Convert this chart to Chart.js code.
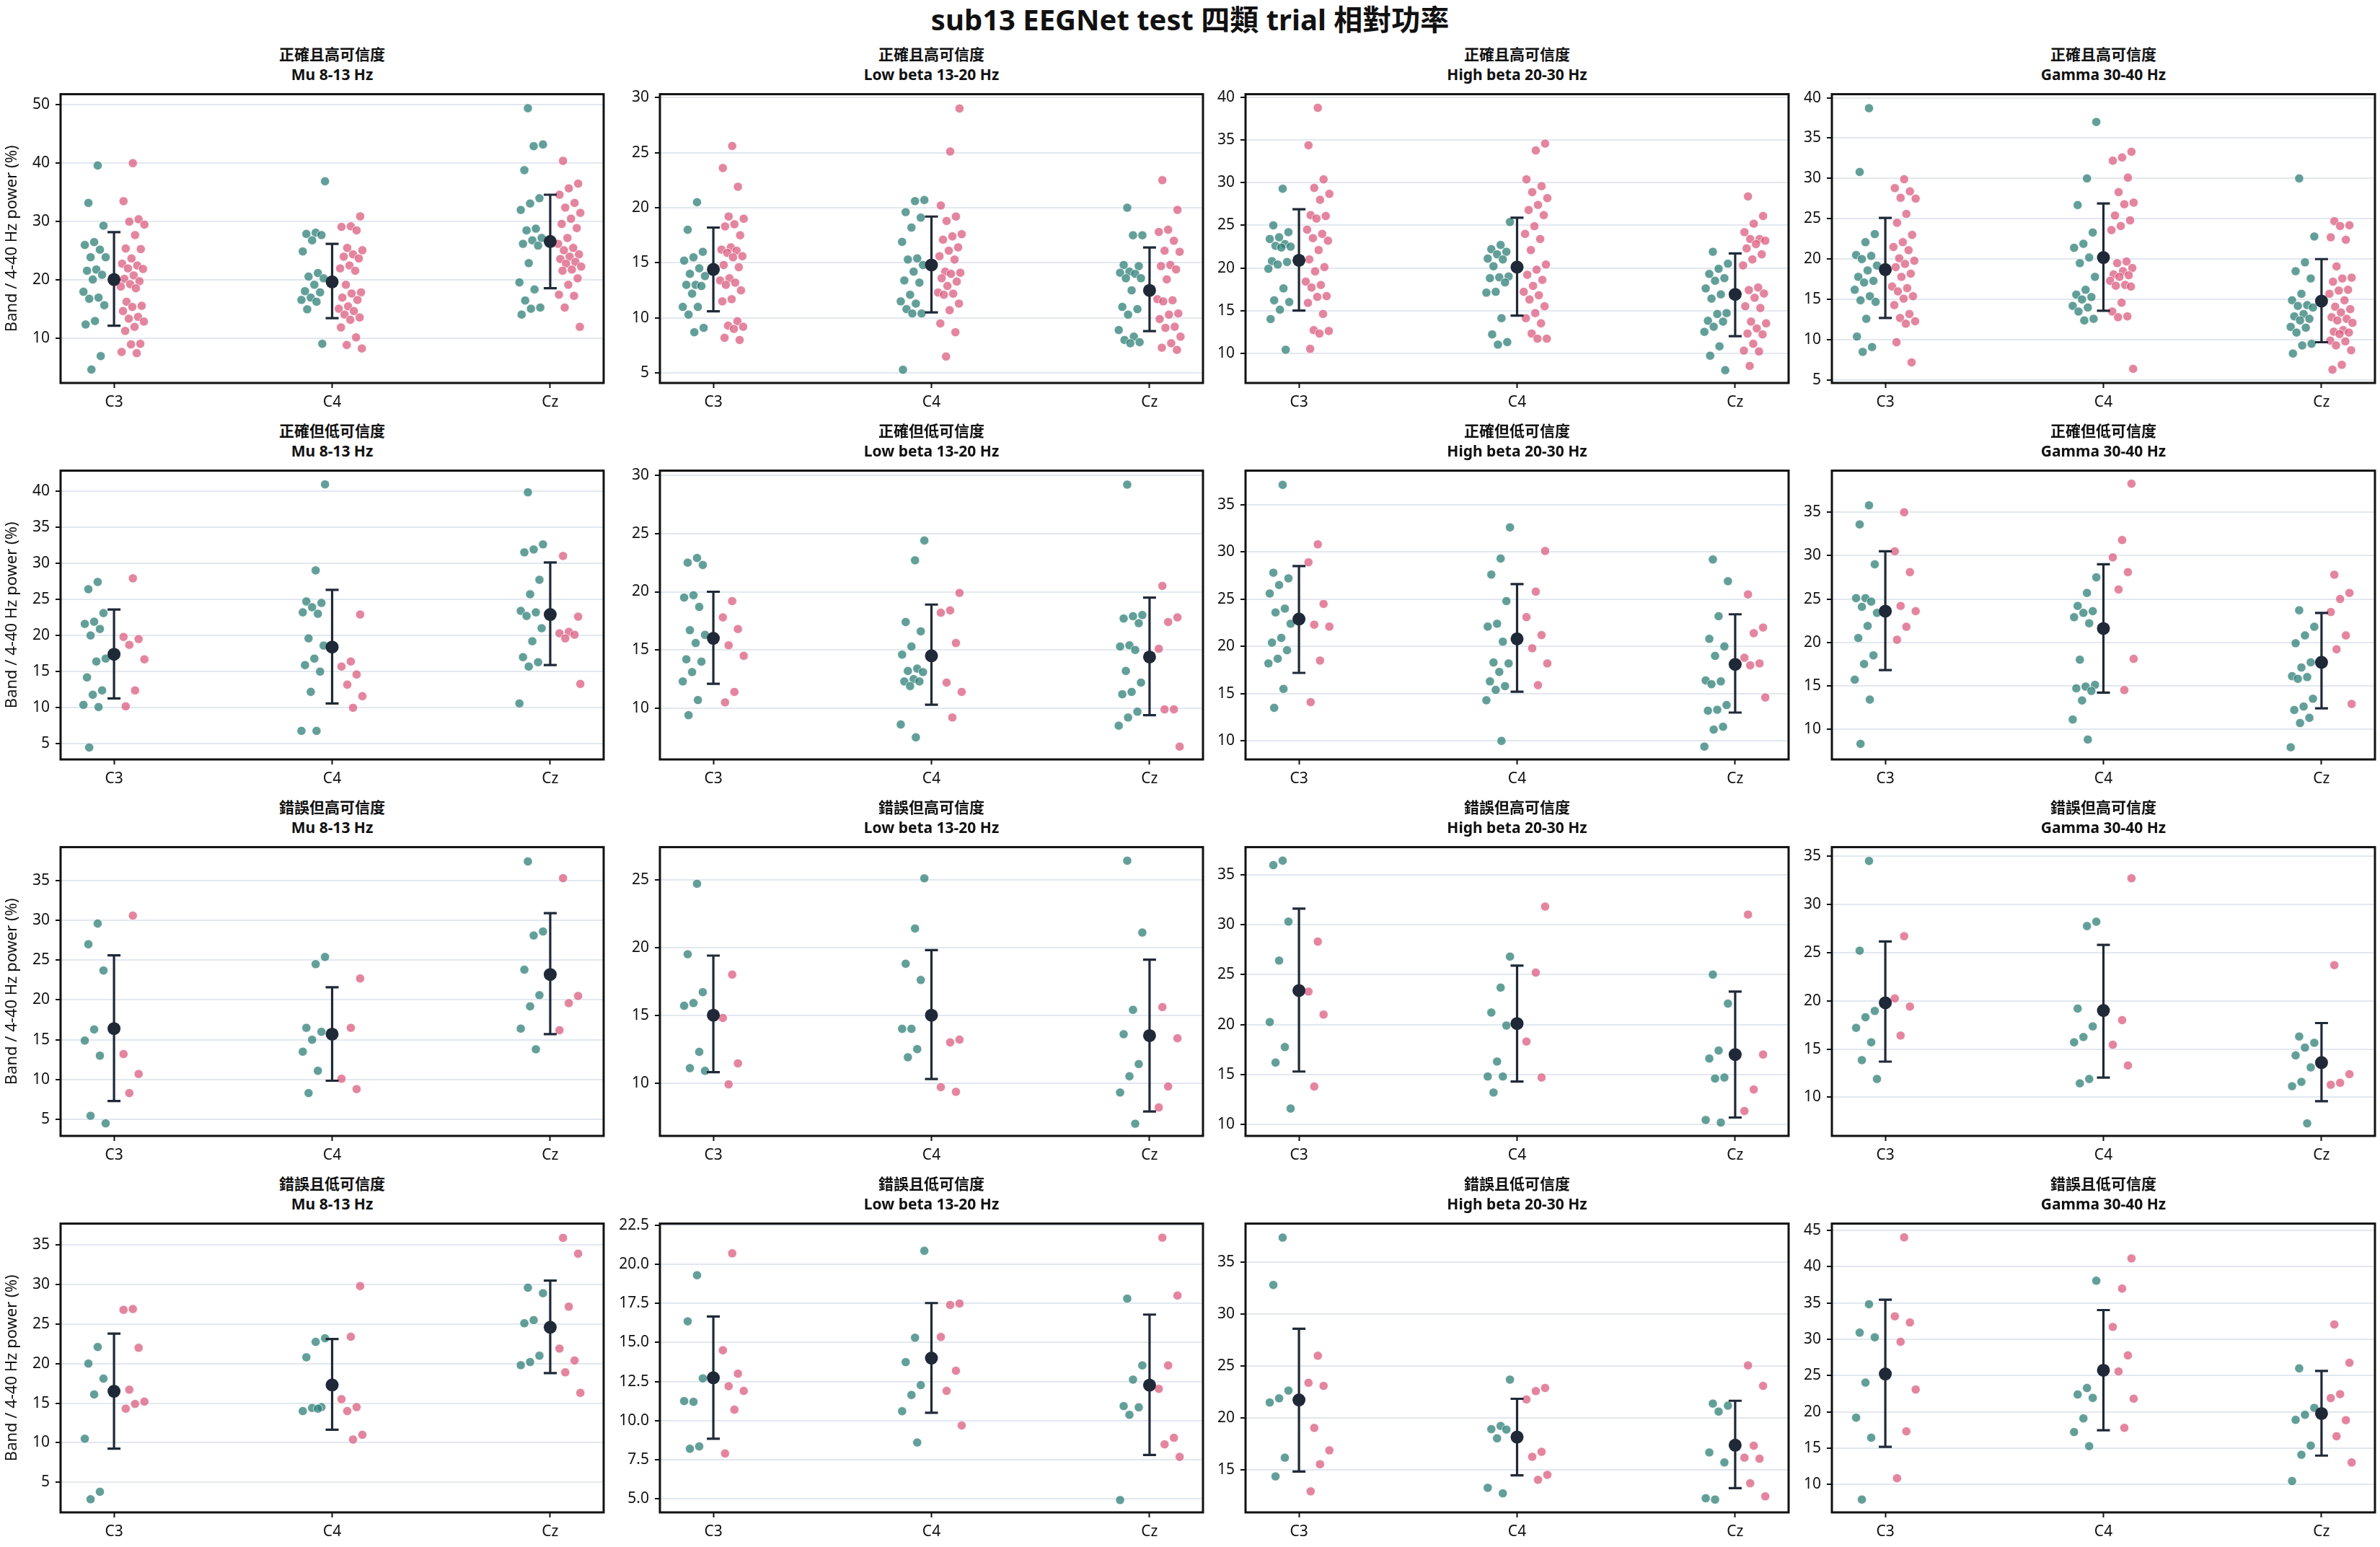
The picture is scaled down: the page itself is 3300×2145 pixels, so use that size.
<!DOCTYPE html>
<html>
<head>
<meta charset="utf-8">
<script src="https://cdn.jsdelivr.net/npm/chart.js@4.4.1/dist/chart.umd.min.js"></script>
<style>
html,body{margin:0;padding:0;background:#fff;}
body{width:3300px;height:2145px;position:relative;overflow:hidden;font-family:'Noto Sans','Noto Sans CJK TC',sans-serif;}
.main{position:absolute;left:0;top:2px;width:3300px;text-align:center;font-weight:bold;font-size:40px;line-height:50px;color:#111;}
.ptitle{position:absolute;text-align:center;font-weight:bold;font-size:21px;line-height:28px;color:#111;white-space:nowrap;}
canvas{position:absolute;}
</style>
</head>
<body>
<div class="main">sub13 EEGNet test 四類 trial 相對功率</div>
<script>
// ---------------- labels ----------------
const mainTitle = 'sub13 EEGNet test 四類 trial 相對功率';
const conditions = ['正確且高可信度', '正確但低可信度', '錯誤但高可信度', '錯誤且低可信度'];
const bands = ['Mu 8-13 Hz', 'Low beta 13-20 Hz', 'High beta 20-30 Hz', 'Gamma 30-40 Hz'];
const channels = ['C3', 'C4', 'Cz'];
const yAxisTitle = 'Band / 4-40 Hz power (%)';

// ---------------- y-axis limits and tick steps (row x col) ----------------
const yMin = [[2.4, 4.1, 6.5, 4.65], [2.85, 5.6, 8.04, 6.5], [2.92, 6.1, 8.86, 6.0], [1.19, 4.13, 10.94, 6.15]];
const yMax = [[51.8, 30.3, 40.4, 40.44], [42.8, 30.4, 38.6, 39.8], [39.2, 27.4, 37.75, 35.93], [37.7, 22.6, 38.7, 45.95]];
const yStep = [[10, 5, 5, 5], [5, 5, 5, 5], [5, 5, 5, 5], [5, 2.5, 5, 5]];

// ---------------- Row 1: 正確且高可信度 ----------------
const teal_R1C1 = [[39.6,33.2,29.3,26.5,26.0,25.2,23.9,23.9,21.8,21.6,20.9,20.1,18.0,17.0,16.8,15.7,13.0,12.4,7.0,4.7],
  [36.9,28.1,27.9,27.7,26.8,24.9,21.2,20.6,20.3,19.2,18.1,17.9,17.0,16.6,16.3,15.0,9.1],
  [49.4,43.2,42.9,38.8,34.0,33.1,32.0,28.8,28.5,27.2,26.8,26.2,25.9,22.9,19.6,18.4,16.5,15.3,15.1,14.1]];
const pink_R1C1 = [[40.0,33.5,30.4,30.0,29.5,27.7,25.4,25.3,23.7,22.8,22.5,22.0,21.9,20.8,20.2,19.8,19.3,18.9,18.6,16.3,15.6,15.4,14.7,13.7,13.4,12.9,12.0,11.3,9.1,9.0,7.7,7.5],
  [30.9,29.2,29.1,28.5,25.5,25.1,24.4,24.0,23.7,22.5,22.0,21.6,19.2,17.9,17.7,17.0,16.6,15.5,15.1,14.7,14.1,13.6,13.2,11.9,10.2,8.9,8.3],
  [40.4,36.5,35.7,34.6,33.2,32.4,31.5,30.5,29.6,28.9,27.2,26.2,25.5,25.1,24.4,24.0,23.6,23.1,22.8,22.3,21.8,21.6,20.3,19.2,17.5,17.3,15.3,12.0]];
const mean_R1C1 = [20.1, 19.7, 26.6], lo_R1C1 = [12.2, 13.5, 18.6], hi_R1C1 = [28.2, 26.2, 34.6];

const teal_R1C2 = [[20.5,18.0,16.0,15.5,15.2,14.5,14.0,13.8,13.0,13.0,12.9,12.2,11.0,11.0,10.3,9.1,8.7],
  [20.7,20.6,19.6,19.1,18.2,16.9,15.4,15.3,14.8,14.2,13.4,13.2,12.1,11.5,11.3,10.8,10.4,10.4,5.3],
  [20.0,17.5,17.5,14.8,14.7,14.2,14.1,14.0,13.6,13.6,12.5,11.0,10.8,10.3,8.9,8.3,8.0,7.8,7.7]];
const pink_R1C2 = [[25.6,23.6,21.9,19.2,19.0,18.5,18.3,17.5,16.4,16.2,16.1,15.9,15.6,15.5,14.8,14.6,13.6,13.4,13.2,13.0,12.5,11.7,11.5,9.7,9.3,9.2,9.0,8.2,8.0],
  [29.0,25.1,20.2,19.2,18.8,17.6,17.4,17.1,16.4,16.1,15.6,15.3,14.2,14.1,14.0,13.6,13.3,12.9,12.3,12.2,12.1,11.3,10.7,9.5,8.7,6.5],
  [22.5,19.8,18.0,17.8,17.0,16.1,16.0,14.8,14.7,14.4,13.5,11.7,11.6,11.5,10.4,10.3,9.9,9.2,9.1,8.3,7.7,7.3,7.1]];
const mean_R1C2 = [14.4, 14.8, 12.5], lo_R1C2 = [10.6, 10.5, 8.8], hi_R1C2 = [18.2, 19.2, 16.4];

const teal_R1C3 = [[29.3,25.0,24.2,23.6,23.4,22.8,22.6,22.5,22.4,20.8,20.7,20.4,19.9,17.6,16.2,16.0,15.1,14.0,10.4],
  [25.4,22.7,22.2,21.9,21.6,21.1,21.0,20.2,19.0,18.9,18.8,18.3,17.2,17.1,14.1,12.2,11.3,11.0],
  [21.9,20.5,19.9,19.3,18.8,18.5,17.6,16.9,16.4,14.7,14.6,13.8,13.7,13.1,12.5,10.8,9.7,8.0]];
const pink_R1C3 = [[38.8,34.4,30.4,29.4,28.7,28.0,26.2,26.1,25.8,24.5,24.0,23.5,23.2,22.1,21.0,20.1,19.6,18.4,18.0,17.7,16.7,16.6,15.9,14.6,12.7,12.6,12.3,10.5],
  [34.6,33.8,30.4,29.6,28.9,28.2,27.4,26.8,26.2,24.9,24.0,23.4,22.1,20.4,19.8,19.2,18.6,17.9,17.2,16.8,16.3,15.5,14.7,14.1,13.5,12.3,11.7,11.7],
  [28.4,26.1,25.2,24.2,23.4,23.4,23.2,22.8,22.3,21.6,21.0,20.3,17.7,17.4,17.0,16.5,15.5,15.3,13.7,13.5,12.9,12.3,12.2,11.1,10.3,10.2,8.5]];
const mean_R1C3 = [20.9, 20.1, 16.9], lo_R1C3 = [15.0, 14.4, 12.0], hi_R1C3 = [26.9, 25.9, 21.7];

const teal_R1C4 = [[38.7,30.8,23.1,22.1,20.5,20.4,20.0,19.2,18.6,17.8,17.3,17.1,16.2,15.4,14.9,14.7,12.6,10.4,9.1,8.5],
  [37.0,30.0,26.7,23.3,21.9,21.4,20.2,19.5,17.8,16.2,15.6,15.3,15.0,14.2,14.0,13.5,12.6,12.4],
  [30.0,22.8,19.6,18.5,17.6,15.7,14.9,14.3,14.2,14.0,13.2,12.9,12.6,12.4,11.6,11.5,10.9,9.5,9.3,8.3]];
const pink_R1C4 = [[29.9,28.8,28.4,27.6,27.5,25.6,24.5,23.0,22.1,21.5,21.1,20.1,19.8,19.4,19.0,18.2,17.8,16.6,16.4,16.0,15.4,15.1,14.3,13.2,12.7,12.3,12.0,9.7,7.2],
  [33.3,32.6,32.2,30.1,28.3,27.0,26.8,25.4,24.8,24.1,23.6,19.7,19.5,18.9,18.5,18.1,18.0,17.8,17.3,16.8,16.7,16.6,14.6,13.5,12.9,12.8,6.4],
  [24.7,24.2,24.1,22.7,22.4,19.1,17.7,17.6,17.2,16.2,16.1,15.7,14.9,14.1,13.8,13.4,12.8,12.6,12.4,12.1,11.2,11.0,10.9,10.7,9.9,9.8,9.3,8.7,6.9,6.3]];
const mean_R1C4 = [18.7, 20.2, 14.8], lo_R1C4 = [12.7, 13.6, 9.7], hi_R1C4 = [25.1, 26.9, 20.0];

// ---------------- Row 2: 正確但低可信度 ----------------
const teal_R2C1 = [[27.4,26.4,23.1,21.9,21.6,20.9,20.0,16.8,16.4,14.2,12.4,11.8,10.4,10.1,4.5],
  [40.9,29.0,24.7,24.5,23.9,23.2,23.0,19.6,18.6,16.8,15.9,15.0,12.2,6.8,6.8],
  [39.8,32.6,31.9,31.5,27.7,25.7,23.4,23.2,22.7,21.0,19.2,17.0,16.3,15.7,10.6]];
const pink_R2C1 = [[27.9,19.8,19.5,18.7,16.7,12.4,10.2], [22.9,16.4,15.7,14.6,13.2,11.6,10.0], [31.0,22.6,20.5,20.3,20.1,19.6,13.3]];
const mean_R2C1 = [17.4, 18.4, 22.9], lo_R2C1 = [11.3, 10.6, 15.9], hi_R2C1 = [23.6, 26.3, 30.1];

const teal_R2C2 = [[22.9,22.5,22.3,19.7,19.5,18.7,16.7,16.3,15.6,14.2,14.0,13.1,12.3,10.7,9.4],
  [24.4,22.7,17.4,16.6,15.3,14.6,13.4,13.2,13.1,12.5,12.3,12.3,11.9,8.6,7.5],
  [29.2,18.0,17.9,17.7,17.3,15.4,15.3,15.0,13.2,12.2,11.4,11.2,9.7,9.2,8.5]];
const pink_R2C2 = [[19.2,17.8,16.8,15.4,14.5,11.4,10.5], [19.9,18.4,18.2,15.6,12.2,11.4,9.2], [20.5,17.8,17.4,15.1,9.9,9.9,6.7]];
const mean_R2C2 = [16.0, 14.5, 14.4], lo_R2C2 = [12.1, 10.3, 9.4], hi_R2C2 = [20.0, 18.9, 19.5];

const teal_R2C3 = [[37.1,27.8,27.2,26.5,25.6,24.0,23.6,22.4,20.9,20.4,19.6,18.7,18.2,15.5,13.5],
  [32.6,29.3,27.6,24.8,22.4,22.1,20.5,18.3,18.2,17.3,16.3,15.8,15.4,14.3,10.0],
  [29.2,26.9,23.2,20.8,20.0,19.0,16.4,16.3,16.0,13.8,13.3,13.2,11.5,11.2,9.4]];
const pink_R2C3 = [[30.8,28.9,24.5,22.3,22.1,18.5,14.1], [30.1,25.8,23.1,21.2,19.8,18.2,15.9], [25.5,22.0,21.4,18.8,18.2,18.0,14.6]];
const mean_R2C3 = [22.9, 20.8, 18.1], lo_R2C3 = [17.2, 15.2, 13.0], hi_R2C3 = [28.5, 26.6, 23.4];

const teal_R2C4 = [[35.8,33.6,29.0,25.1,25.1,24.7,24.1,23.4,21.9,20.5,18.5,17.5,15.7,13.4,8.3],
  [27.5,25.7,24.2,23.6,23.4,22.9,22.2,18.0,15.1,14.9,14.7,14.4,13.3,11.1,8.8],
  [23.7,21.8,20.8,19.9,17.7,17.1,16.1,16.0,15.8,13.5,12.6,12.2,11.3,10.7,7.9]];
const pink_R2C4 = [[35.0,30.5,28.1,24.2,23.6,21.8,20.3], [38.3,31.8,29.8,28.1,26.1,18.1,14.5], [27.8,25.7,25.0,23.5,20.8,19.2,12.9]];
const mean_R2C4 = [23.6, 21.6, 17.7], lo_R2C4 = [16.8, 14.2, 12.4], hi_R2C4 = [30.5, 29.0, 23.4];

// ---------------- Row 3: 錯誤但高可信度 ----------------
const teal_R3C1 = [[29.6,27.0,23.7,16.3,14.9,13.0,5.45,4.5], [25.4,24.5,16.5,16.0,15.0,13.5,11.1,8.3], [37.4,28.6,28.1,23.8,20.6,19.2,16.4,13.8]];
const pink_R3C1 = [[30.6,13.2,10.7,8.3], [22.7,16.5,10.1,8.8], [35.3,20.5,19.6,16.2]];
const mean_R3C1 = [16.4, 15.7, 23.2], lo_R3C1 = [7.3, 9.85, 15.7], hi_R3C1 = [25.6, 21.6, 30.9];

const teal_R3C2 = [[24.7,19.5,16.7,15.9,15.7,12.3,11.1,10.9], [25.1,21.4,18.8,17.6,14.0,14.0,12.5,11.9], [26.4,21.1,15.4,13.6,11.4,10.5,9.3,7.0]];
const pink_R3C2 = [[18.0,14.8,11.45,9.9], [13.2,13.0,9.7,9.35], [15.6,13.3,9.75,8.2]];
const mean_R3C2 = [15.0, 15.0, 13.5], lo_R3C2 = [10.8, 10.3, 7.9], hi_R3C2 = [19.4, 19.8, 19.1];

const teal_R3C3 = [[36.4,35.95,30.3,26.4,20.25,17.75,16.2,11.6], [26.8,23.7,21.2,19.9,16.3,14.8,14.8,13.2], [25.0,22.1,17.4,16.6,14.7,14.6,10.45,10.2]];
const pink_R3C3 = [[28.3,23.3,21.0,13.8], [31.8,25.2,18.3,14.7], [31.0,17.0,13.5,11.35]];
const mean_R3C3 = [23.4, 20.1, 17.0], lo_R3C3 = [15.3, 14.3, 10.7], hi_R3C3 = [31.6, 25.9, 23.3];

const teal_R3C4 = [[34.5,25.2,18.95,18.3,17.2,15.7,13.85,11.9], [28.2,27.75,19.2,17.35,16.25,15.7,11.9,11.45], [16.3,15.65,15.15,14.35,13.1,11.6,11.15,7.3]];
const pink_R3C4 = [[26.7,20.25,19.4,16.4], [32.7,18.0,15.45,13.3], [23.7,12.4,11.5,11.3]];
const mean_R3C4 = [19.8, 19.0, 13.6], lo_R3C4 = [13.7, 12.05, 9.6], hi_R3C4 = [26.15, 25.8, 17.7];

// ---------------- Row 4: 錯誤且低可信度 ----------------
const teal_R4C1 = [[22.1,20.0,18.1,16.1,10.5,3.8,2.85], [23.2,22.75,20.8,14.5,14.4,14.0,14.3], [29.6,28.9,25.5,25.1,21.0,20.2,19.8]];
const pink_R4C1 = [[26.9,26.8,22.0,16.7,15.2,14.9,14.3], [29.8,23.4,15.5,14.5,14.0,11.0,10.4], [35.9,33.9,27.2,21.9,20.4,18.9,16.3]];
const mean_R4C1 = [16.5, 17.3, 24.6], lo_R4C1 = [9.25, 11.65, 18.8], hi_R4C1 = [23.8, 23.1, 30.5];

const teal_R4C2 = [[19.3,16.35,12.7,11.2,11.25,8.35,8.2], [20.86,15.3,13.74,12.27,11.64,10.6,8.6], [17.8,13.53,12.62,10.93,10.85,10.37,4.92]];
const pink_R4C2 = [[20.7,14.5,13.0,12.2,11.9,10.7,7.9], [17.49,17.4,15.35,13.19,11.9,9.69], [21.7,18.0,13.53,12.03,8.9,8.48,7.68]];
const mean_R4C2 = [12.74, 14.0, 12.27], lo_R4C2 = [8.84, 10.5, 7.8], hi_R4C2 = [16.66, 17.52, 16.78];

const teal_R4C3 = [[37.35,32.8,22.65,21.9,21.5,16.2,14.4], [23.7,19.25,18.94,18.9,18.06,13.3,12.77], [21.4,21.2,20.63,16.7,15.74,12.17,12.3]];
const pink_R4C3 = [[26.0,23.4,23.1,19.06,16.9,15.57,12.96], [22.9,22.6,21.8,16.76,16.28,14.55,14.07], [25.07,23.1,17.35,16.2,16.1,13.74,12.48]];
const mean_R4C3 = [21.75, 18.18, 17.4], lo_R4C3 = [14.86, 14.5, 13.27], hi_R4C3 = [28.6, 21.86, 21.67];

const teal_R4C4 = [[34.84,30.92,30.28,24.04,19.2,16.44,7.92], [38.08,23.29,22.4,21.93,19.1,17.22,15.28], [26.0,20.55,19.6,18.9,15.35,14.09,10.47]];
const pink_R4C4 = [[44.05,33.17,32.32,29.66,23.08,17.32,10.85], [41.15,36.99,31.71,27.79,25.57,21.82,17.8], [32.05,26.77,22.44,21.9,18.86,16.64,13.03]];
const mean_R4C4 = [25.23, 25.74, 19.78], lo_R4C4 = [15.18, 17.46, 13.98], hi_R4C4 = [35.46, 34.03, 25.64];

// ---------------- assemble (references only) ----------------
const tealData = [[teal_R1C1, teal_R1C2, teal_R1C3, teal_R1C4], [teal_R2C1, teal_R2C2, teal_R2C3, teal_R2C4], [teal_R3C1, teal_R3C2, teal_R3C3, teal_R3C4], [teal_R4C1, teal_R4C2, teal_R4C3, teal_R4C4]];
const pinkData = [[pink_R1C1, pink_R1C2, pink_R1C3, pink_R1C4], [pink_R2C1, pink_R2C2, pink_R2C3, pink_R2C4], [pink_R3C1, pink_R3C2, pink_R3C3, pink_R3C4], [pink_R4C1, pink_R4C2, pink_R4C3, pink_R4C4]];
const meanData = [[mean_R1C1, mean_R1C2, mean_R1C3, mean_R1C4], [mean_R2C1, mean_R2C2, mean_R2C3, mean_R2C4], [mean_R3C1, mean_R3C2, mean_R3C3, mean_R3C4], [mean_R4C1, mean_R4C2, mean_R4C3, mean_R4C4]];
const loData = [[lo_R1C1, lo_R1C2, lo_R1C3, lo_R1C4], [lo_R2C1, lo_R2C2, lo_R2C3, lo_R2C4], [lo_R3C1, lo_R3C2, lo_R3C3, lo_R3C4], [lo_R4C1, lo_R4C2, lo_R4C3, lo_R4C4]];
const hiData = [[hi_R1C1, hi_R1C2, hi_R1C3, hi_R1C4], [hi_R2C1, hi_R2C2, hi_R2C3, hi_R2C4], [hi_R3C1, hi_R3C2, hi_R3C3, hi_R3C4], [hi_R4C1, hi_R4C2, hi_R4C3, hi_R4C4]];

// ---------------- layout / style ----------------
const FONT = "'Noto Sans', 'Noto Sans CJK TC', sans-serif";
const TEXT = '#111111';
const TEAL = 'rgba(45,125,118,0.74)';
const PINK = 'rgba(218,86,124,0.72)';
const MEANC = '#1f2937';
const GRID = '#e2e8f0';
const colLeft = [84, 915, 1727, 2540];
const rowTop = [125, 647, 1169, 1691];
const PW = 753, PH = 406;
const padL = 84, padR = 10, padT = 15, padB = 52;

Chart.defaults.font.family = FONT;
Chart.defaults.color = TEXT;

function jitter(k, i) {
  const t = ((i + 1) * 0.6180339887 + k * 0.377) % 1;
  return (t * 2 - 1) * 0.056;
}

const framePlugin = {
  id: 'frame',
  beforeDatasetDraw(chart, args, opts) {
    if (args.index !== 0) return;
    const xs = chart.scales.x, ys = chart.scales.y, ctx = chart.ctx;
    ctx.save();
    ctx.strokeStyle = MEANC;
    ctx.lineWidth = 3.2;
    ctx.lineCap = 'butt';
    opts.lo.forEach((lo, i) => {
      const x = xs.getPixelForValue(i);
      const y1 = ys.getPixelForValue(lo), y2 = ys.getPixelForValue(opts.hi[i]);
      ctx.beginPath();
      ctx.moveTo(x, y1); ctx.lineTo(x, y2);
      ctx.moveTo(x - 9, y1); ctx.lineTo(x + 9, y1);
      ctx.moveTo(x - 9, y2); ctx.lineTo(x + 9, y2);
      ctx.stroke();
    });
    ctx.restore();
  },
  afterDraw(chart) {
    const a = chart.chartArea, ctx = chart.ctx;
    ctx.save();
    ctx.strokeStyle = '#111111';
    ctx.lineWidth = 3;
    ctx.strokeRect(a.left, a.top, a.right - a.left, a.bottom - a.top);
    ctx.restore();
  }
};

function stepTicks(min, max, step) {
  const out = [];
  const first = Math.ceil(min / step - 1e-9), last = Math.floor(max / step + 1e-9);
  for (let n = first; n <= last; n++) out.push({value: Math.round(n * step * 1000) / 1000});
  return out;
}

for (let r = 0; r < 4; r++) {
  for (let c = 0; c < 4; c++) {
    const L = colLeft[c], T = rowTop[r];
    const t = document.createElement('div');
    t.className = 'ptitle';
    t.style.left = L + 'px';
    t.style.width = PW + 'px';
    t.style.top = (T - 64) + 'px';
    t.innerHTML = conditions[r] + '<br>' + bands[c];
    document.body.appendChild(t);

    const W = padL + PW + padR, H = padT + PH + padB;
    const cv = document.createElement('canvas');
    cv.width = W; cv.height = H;
    cv.style.left = (L - padL) + 'px';
    cv.style.top = (T - padT) + 'px';
    cv.style.width = W + 'px';
    cv.style.height = H + 'px';
    document.body.appendChild(cv);

    const teal = [], pink = [];
    tealData[r][c].forEach((arr, k) => arr.forEach((v, i) => teal.push({x: k - 0.088 + jitter(k, i), y: v})));
    pinkData[r][c].forEach((arr, k) => arr.forEach((v, i) => pink.push({x: k + 0.086 + jitter(k + 5, i), y: v})));
    const means = meanData[r][c].map((m, k) => ({x: k, y: m}));
    const step = yStep[r][c];
    const lo = yMin[r][c], hi = yMax[r][c];

    new Chart(cv, {
      type: 'scatter',
      data: {
        datasets: [
          {data: means, pointRadius: 9, pointHoverRadius: 9, backgroundColor: MEANC, borderWidth: 0},
          {data: pink, pointRadius: 6.2, pointHoverRadius: 6.2, backgroundColor: PINK, borderColor: 'rgba(255,255,255,0.75)', borderWidth: 1},
          {data: teal, pointRadius: 6.2, pointHoverRadius: 6.2, backgroundColor: TEAL, borderColor: 'rgba(255,255,255,0.75)', borderWidth: 1}
        ]
      },
      options: {
        responsive: false,
        animation: false,
        devicePixelRatio: 1,
        layout: {padding: {left: 0, top: padT, right: padR, bottom: 0}},
        plugins: {
          legend: {display: false},
          tooltip: {enabled: false},
          frame: {lo: loData[r][c], hi: hiData[r][c]}
        },
        scales: {
          x: {
            type: 'linear', min: -0.245, max: 2.245,
            afterBuildTicks: s => { s.ticks = [0, 1, 2].map(v => ({value: v})); },
            afterFit: s => { s.height = padB; },
            ticks: {callback: v => channels[v], font: {size: 21}, color: TEXT, padding: 7, maxRotation: 0, autoSkip: false},
            grid: {drawOnChartArea: false, drawTicks: true, tickLength: 7, tickColor: '#111111', tickWidth: 2},
            border: {display: false}
          },
          y: {
            type: 'linear', min: lo, max: hi,
            ticks: {
              font: {size: 21}, color: TEXT, padding: 8, autoSkip: false,
              callback: v => step < 5 ? v.toFixed(1) : String(v)
            },
            afterBuildTicks: s => { s.ticks = stepTicks(lo, hi, step); },
            afterFit: s => { s.width = padL; },
            grid: {color: GRID, lineWidth: 2, drawTicks: true, tickLength: 7, tickColor: '#111111', tickWidth: 2},
            border: {display: false},
            title: {display: c === 0, text: yAxisTitle, font: {size: 22}, color: TEXT, padding: {top: 4, bottom: 0}}
          }
        }
      },
      plugins: [framePlugin]
    });
  }
}
</script>
</body>
</html>
